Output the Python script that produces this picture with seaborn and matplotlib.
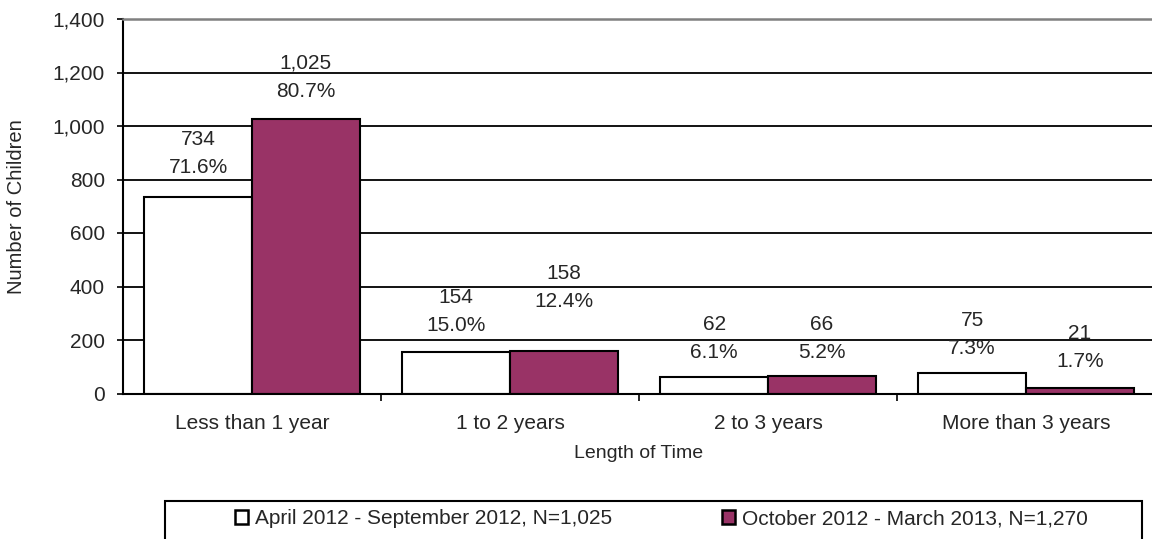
import pandas as pd
import matplotlib.pyplot as plt
import matplotlib.ticker as mticker
from matplotlib.patches import Patch, Rectangle
import seaborn as sns

categories = ["Less than 1 year", "1 to 2 years", "2 to 3 years", "More than 3 years"]
periods = ["April 2012 - September 2012, N=1,025", "October 2012 - March 2013, N=1,270"]
counts_p1 = [734, 154, 62, 75]
counts_p2 = [1025, 158, 66, 21]
pct_p1 = ["71.6%", "15.0%", "6.1%", "7.3%"]
pct_p2 = ["80.7%", "12.4%", "5.2%", "1.7%"]

# where the two-line labels sit (centre, in data units)
label_y_p1 = [899, 306, 204, 220]
label_y_p2 = [1183, 397, 204, 172]

colors = ["#FFFFFF", "#993366"]

df = pd.DataFrame({
    "Length of Time": categories * 2,
    "Children": counts_p1 + counts_p2,
    "Period": [periods[0]] * 4 + [periods[1]] * 4,
})

sns.set_style("white")
plt.rcParams["font.family"] = ["Liberation Sans", "DejaVu Sans"]

W, H = 1152, 539
fig = plt.figure(figsize=(W / 100, H / 100), dpi=100)
ax = fig.add_axes([123 / W, 1 - 393.5 / H, (1155 - 123) / W, (393.5 - 19) / H])

sns.barplot(data=df, x="Length of Time", y="Children", hue="Period",
            palette=colors, order=categories, hue_order=periods, saturation=1,
            width=0.835, edgecolor="black", linewidth=1.5, ax=ax, legend=False)

ax.set_ylim(0, 1400)
ax.set_xlim(-0.5, 3.5)
ax.yaxis.set_major_locator(mticker.MultipleLocator(200))
ax.yaxis.set_major_formatter(mticker.FuncFormatter(lambda v, p: f"{v:,.0f}"))
for v in range(200, 1400, 200):
    ax.axhline(v, color="black", lw=1.3, zorder=0)

ax.spines["right"].set_visible(False)
ax.spines["top"].set_color("#808080")
ax.spines["top"].set_linewidth(1.8)
for s in ["left", "bottom"]:
    ax.spines[s].set_color("black")
    ax.spines[s].set_linewidth(1.5)

ax.tick_params(axis="y", which="major", left=True, length=4, width=1.2, color="black",
               labelsize=15, pad=9)
ax.tick_params(axis="x", which="major", bottom=False, labelsize=15, pad=11)
ax.set_xticks([0.5, 1.5, 2.5], minor=True)
ax.tick_params(axis="x", which="minor", bottom=True, length=5, width=1.2, color="black")

ax.set_xlabel("Length of Time", fontsize=14, labelpad=9)
ax.set_ylabel("Number of Children", fontsize=14.5)
ax.yaxis.set_label_coords(-97 / (1155 - 123), 0.5)

off = 0.835 / 4
for i in range(len(categories)):
    ax.text(i - off, label_y_p1[i], f"{counts_p1[i]:,}\n{pct_p1[i]}", ha="center", va="center",
            fontsize=15, linespacing=1.6)
    ax.text(i + off, label_y_p2[i], f"{counts_p2[i]:,}\n{pct_p2[i]}", ha="center", va="center",
            fontsize=15, linespacing=1.6)

handles = [Patch(facecolor=c, edgecolor="black", linewidth=1.8) for c in colors]
fig.legend(handles, periods, loc="center left", bbox_to_anchor=(216 / W, 1 - 519 / H),
           ncol=2, frameon=False, columnspacing=5.3, fontsize=15,
           handlelength=0.62, handleheight=0.62, handletextpad=0.33)
fig.patches.append(Rectangle((165 / W, -0.05), (1142 - 165) / W, 0.05 + (539 - 501) / H,
                             transform=fig.transFigure, fill=False, edgecolor="black", lw=1.5))

fig.savefig("out.png", dpi=100)
